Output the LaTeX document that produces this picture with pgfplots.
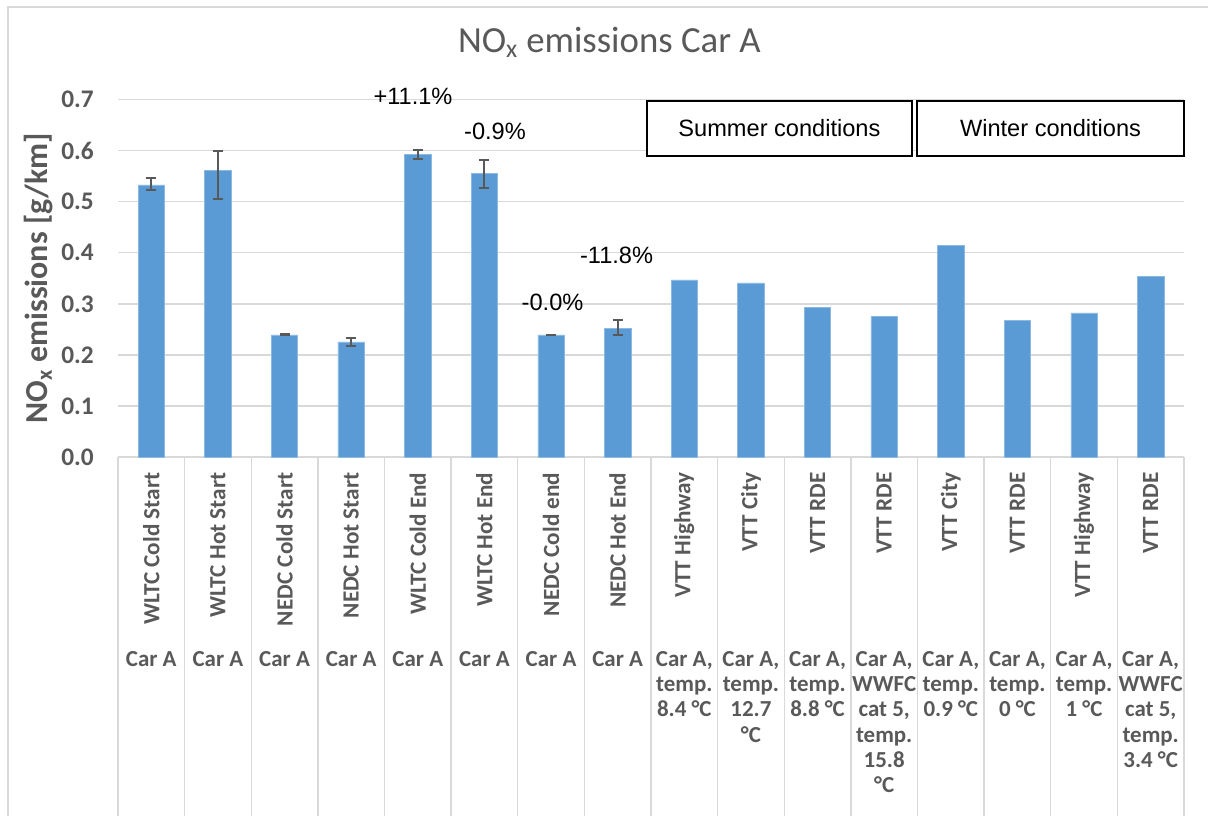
\documentclass[border=0pt]{standalone}
\usepackage{pgfplots}
\pgfplotsset{compat=1.18}
\usepackage{fontspec}
\setmainfont{Carlito}
\newfontfamily\arial{Liberation Sans}
\definecolor{barblue}{HTML}{5B9BD5}
\definecolor{txtgray}{HTML}{595959}
\definecolor{gridgray}{HTML}{D9D9D9}
\definecolor{errgray}{HTML}{595959}
\tikzset{row2/.style={anchor=north, align=center, font=\bfseries\fontsize{17.2}{19}\selectfont, text=txtgray, inner sep=0pt}}
\begin{document}
\begin{tikzpicture}
\useasboundingbox (-88.5pt,-269.25pt) rectangle (817.5pt,342.75pt);
\draw[gridgray, line width=1.1pt] (-82.5pt,-272pt) -- (-82.5pt,337.5pt) -- (820pt,337.5pt);
\begin{axis}[
  scale only axis, width=799.5pt, height=268.1pt,
  ymin=0, ymax=0.7, ytick={0,0.1,0.2,0.3,0.4,0.5,0.6,0.7},
  xmin=-0.5, xmax=15.5,
  xtick={0,...,15},
  xticklabels={WLTC Cold Start,WLTC Hot Start,NEDC Cold Start,NEDC Hot Start,WLTC Cold End,WLTC Hot End,NEDC Cold end,NEDC Hot End,VTT Highway,VTT City,VTT RDE,VTT RDE,VTT City,VTT RDE,VTT Highway,VTT RDE},
  ybar, bar width=19.8pt,
  separate axis lines,
  axis x line*=bottom, axis y line*=left,
  x axis line style={gridgray, line width=1.1pt, -},
  y axis line style={draw=none},
  major tick length=0pt,
  tick style={draw=none},
  ymajorgrids, grid style={gridgray, line width=1.1pt},
  /pgf/number format/assume math mode=true,
  yticklabel={\pgfmathprintnumber[fixed,fixed zerofill,precision=1]{\tick}},
  yticklabel style={font=\bfseries\fontsize{19}{19}\selectfont, text=txtgray, inner sep=0pt, anchor=east, xshift=-18pt},
  xticklabel style={rotate=90, anchor=east, font=\bfseries\fontsize{17.4}{19}\selectfont, text=txtgray, inner sep=0pt},
  xticklabel shift=11.5pt,
  ylabel={NO\textsubscript{x} emissions [g/km]},
  every axis y label/.style={at={(axis description cs:-0.075,0.5)}, rotate=90, anchor=center, font=\bfseries\fontsize{24}{26}\selectfont, text=txtgray},
  title={NO\textsubscript{x} emissions Car A},
  title style={at={(axis description cs:0.461,1)}, anchor=base, yshift=29.1pt, font=\fontsize{27.6}{30}\selectfont, text=txtgray},
  clip=false,
]
\addplot[fill=barblue, draw=barblue!70!white, line width=0.4pt, bar shift=0pt,
  error bars/.cd, y dir=both, y explicit,
  error bar style={errgray, line width=1.5pt},
  error mark options={rotate=90, mark size=3.75pt, line width=1.5pt, errgray}]
coordinates {
(0,0.533) += (0,0.013) -= (0,0.011)
(1,0.561) += (0,0.039) -= (0,0.055)
(2,0.239) += (0,0.001) -= (0,0.001)
(3,0.2255) += (0,0.0075) -= (0,0.0085)
(4,0.593) += (0,0.008) -= (0,0.009)
(5,0.556) += (0,0.025) -= (0,0.030)
(6,0.239) += (0,0.0005) -= (0,0.0005)
(7,0.252) += (0,0.0165) -= (0,0.0135)
};
\addplot[fill=barblue, draw=barblue!70!white, line width=0.4pt, bar shift=0pt]
coordinates {
(8,0.347) (9,0.341) (10,0.293) (11,0.2756) (12,0.415) (13,0.267) (14,0.282) (15,0.354)
};
\node[row2] at ([yshift=-145.5pt]axis cs:0,0) {Car A};
\node[row2] at ([yshift=-145.5pt]axis cs:1,0) {Car A};
\node[row2] at ([yshift=-145.5pt]axis cs:2,0) {Car A};
\node[row2] at ([yshift=-145.5pt]axis cs:3,0) {Car A};
\node[row2] at ([yshift=-145.5pt]axis cs:4,0) {Car A};
\node[row2] at ([yshift=-145.5pt]axis cs:5,0) {Car A};
\node[row2] at ([yshift=-145.5pt]axis cs:6,0) {Car A};
\node[row2] at ([yshift=-145.5pt]axis cs:7,0) {Car A};
\node[row2] at ([yshift=-145.5pt]axis cs:8,0) {Car A,\\temp.\\8.4 °C};
\node[row2] at ([yshift=-145.5pt]axis cs:9,0) {Car A,\\temp.\\12.7\\°C};
\node[row2] at ([yshift=-145.5pt]axis cs:10,0) {Car A,\\temp.\\8.8 °C};
\node[row2] at ([yshift=-145.5pt]axis cs:11,0) {Car A,\\WWFC\\cat 5,\\temp.\\15.8\\°C};
\node[row2] at ([yshift=-145.5pt]axis cs:12,0) {Car A,\\temp.\\0.9 °C};
\node[row2] at ([yshift=-145.5pt]axis cs:13,0) {Car A,\\temp.\\0 °C};
\node[row2] at ([yshift=-145.5pt]axis cs:14,0) {Car A,\\temp.\\1 °C};
\node[row2] at ([yshift=-145.5pt]axis cs:15,0) {Car A,\\WWFC\\cat 5,\\temp.\\3.4 °C};
\end{axis}
\foreach \k in {0,...,16} \draw[gridgray, line width=1.1pt] ({\k*799.5pt/16},0pt) -- ({\k*799.5pt/16},-272pt);
\begin{scope}[every node/.style={font=\arial\fontsize{17.7}{20}\selectfont, anchor=base, inner sep=0pt}]
\node at (221.25pt,264pt) {+11.1\%};
\node at (282.75pt,237.75pt) {-0.9\%};
\node at (373.9pt,144.75pt) {-11.8\%};
\node at (325.9pt,109.7pt) {-0.0\%};
\end{scope}
\draw[black, line width=1pt, fill=white] (396.75pt,225.75pt) rectangle (595.5pt,267pt);
\draw[black, line width=1pt, fill=white] (599.25pt,225.75pt) rectangle (799.5pt,267pt);
\node[font=\arial\fontsize{17.7}{20}\selectfont, inner sep=0pt] at (496.1pt,246.4pt) {Summer conditions};
\node[font=\arial\fontsize{17.7}{20}\selectfont, inner sep=0pt] at (699.4pt,246.4pt) {Winter conditions};
\end{tikzpicture}
\end{document}
